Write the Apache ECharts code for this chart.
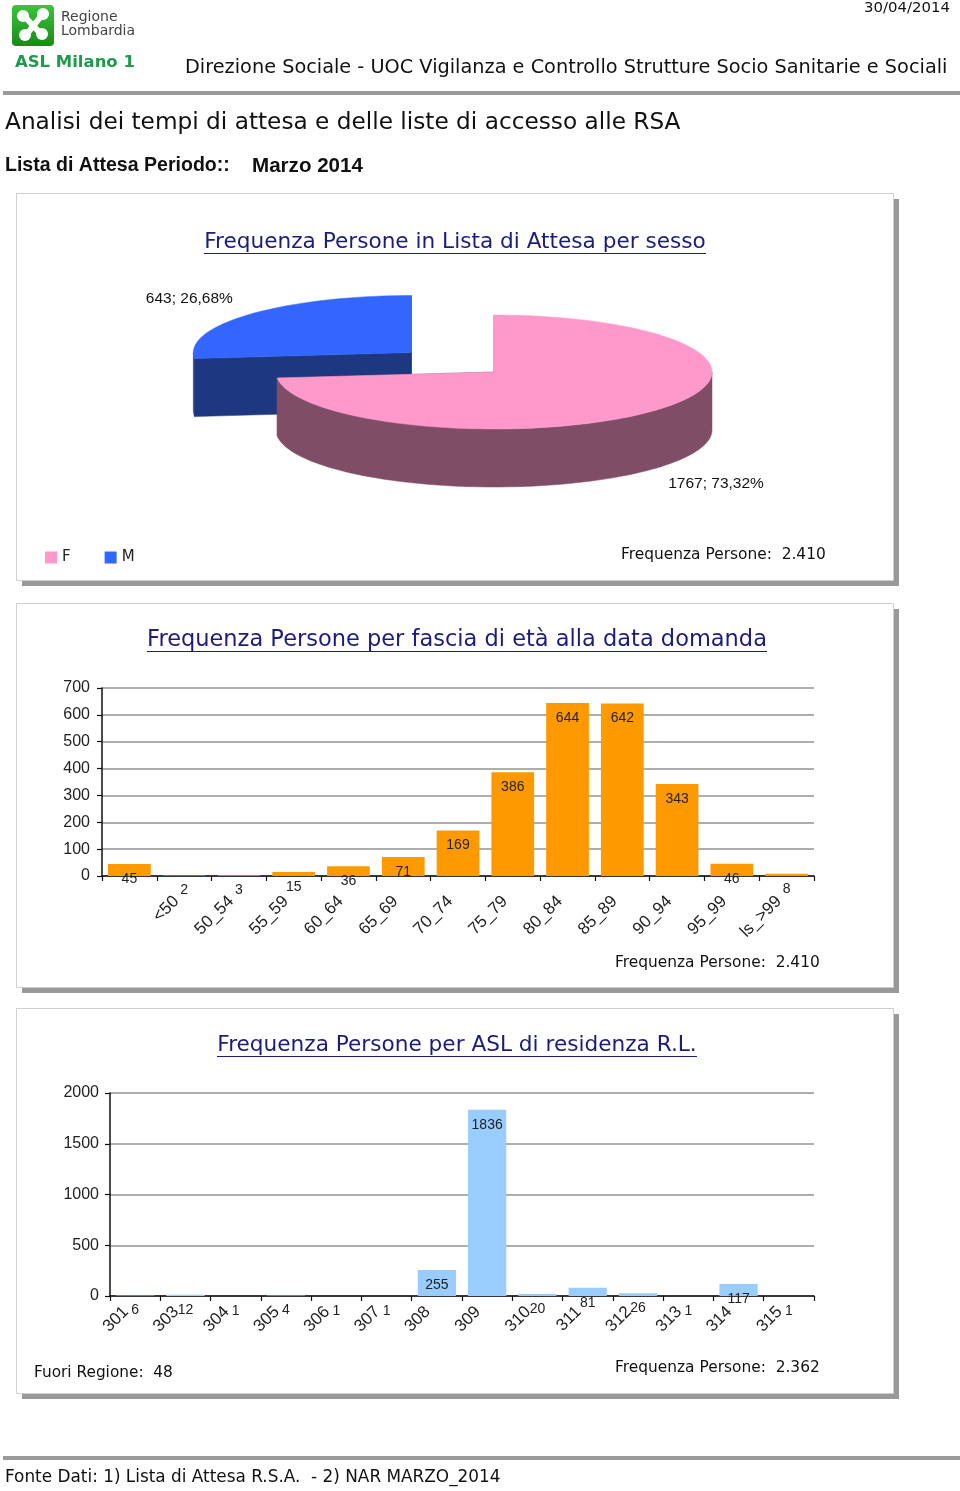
<!DOCTYPE html>
<html>
<head>
<meta charset="utf-8">
<title>Analisi dei tempi di attesa RSA - Marzo 2014</title>
<script src="https://cdn.jsdelivr.net/npm/echarts@6.0.0/dist/echarts.min.js"></script>
<style>
  html, body { margin: 0; padding: 0; background: #fff; }
  #page { width: 960px; height: 1491px; }
</style>
</head>
<body>
<div id="page"></div>
<script>
// persone in lista per sesso
const sexNames = ['F', 'M'];
const sexValues = [1767, 643];

// fasce di eta alla data domanda
const ageLabels = ['', '<50', '50_54', '55_59', '60_64', '65_69', '70_74', '75_79', '80_84', '85_89', '90_94', '95_99', 'ls_>99'];
const ageValues = [45, 2, 3, 15, 36, 71, 169, 386, 644, 642, 343, 46, 8];

// ASL di residenza
const aslLabels = ['301', '303', '304', '305', '306', '307', '308', '309', '310', '311', '312', '313', '314', '315'];
const aslValues = [6, 12, 1, 4, 1, 1, 255, 1836, 20, 81, 26, 1, 117, 1];

const GOTHIC = 'DejaVu Sans';
const ARIAL = 'Liberation Sans';
const NAVY = '#1c1c7c';

const sum = arr => arr.reduce((a, b) => a + b, 0);
const migliaia = n => String(n).replace(/\B(?=(\d{3})+(?!\d))/g, '.');

// dimensione del font per avere la larghezza voluta
const ctx = document.createElement('canvas').getContext('2d');
function fit(text, width, family, weight) {
    ctx.font = (weight || 'normal') + ' 100px "' + family + '"';
    return 100 * width / ctx.measureText(text).width;
}

function testo(str, x, y, width, o) {
    o = o || {};
    const family = o.family || GOTHIC;
    return {
        type: 'text', x: x, y: y, z: 10,
        style: {
            text: str,
            fontFamily: family,
            fontWeight: o.weight || 'normal',
            fontSize: o.size || fit(str, width, family, o.weight),
            fill: o.color || '#111',
            align: o.align || 'left',
            verticalAlign: 'middle'
        }
    };
}

function titolo(str, cx, y, width) {
    return [
        testo(str, cx, y, width, {align: 'center', color: NAVY}),
        {type: 'line', z: 10, shape: {x1: cx - width / 2, y1: y + 11.5, x2: cx + width / 2, y2: y + 11.5},
            style: {stroke: NAVY, lineWidth: 1.2}}
    ];
}

function pannello(x, y, w, h) {
    return [
        {type: 'rect', shape: {x: x + 6, y: y + 6, width: w, height: h}, style: {fill: '#999'}},
        {type: 'rect', shape: {x: x + 0.5, y: y + 0.5, width: w, height: h}, style: {fill: '#fff', stroke: '#cfcfcf', lineWidth: 1}}
    ];
}

// torta 3D (schiacciata) disegnata con serie custom
const PIE = {cx: 494, cy: 372, rx: 218, ry: 57, depth: 58, explode: 0.51, pulled: 'M'};
const sexTop = ['#FF99CC', '#3366FF'];
const sexSide = ['#7F4D66', '#1D3780'];
const rad = d => d * Math.PI / 180;

function fetta(i) {
    return function (params, api) {
        const total = sum(sexValues);
        const before = sum(sexValues.slice(0, i));
        const a0 = 90 - 360 * before / total;
        const a1 = 90 - 360 * (before + sexValues[i]) / total;
        const mid = (a0 + a1) / 2;
        const D = PIE.depth;
        let cx = PIE.cx, cy = PIE.cy;
        if (sexNames[i] === PIE.pulled) {
            cx += PIE.rx * PIE.explode * Math.cos(rad(mid));
            cy -= PIE.ry * PIE.explode * Math.sin(rad(mid));
        }
        const pt = (deg, dy) => [cx + PIE.rx * Math.cos(rad(deg)), cy - PIE.ry * Math.sin(rad(deg)) + (dy || 0)];
        const arco = (from, to, dy) => {
            const pts = [];
            const n = Math.max(2, Math.ceil(Math.abs(from - to) / 2));
            for (let s = 0; s <= n; s++) pts.push(pt(from + (to - from) * s / n, dy));
            return pts;
        };
        const side = sexSide[i];
        const children = [];
        [a0, a1].forEach(a => {
            const e = pt(a);
            children.push({type: 'polygon', shape: {points: [[cx, cy], e, [e[0], e[1] + D], [cx, cy + D]]},
                style: {fill: side, stroke: side, lineWidth: 0.5}});
        });
        // parete esterna visibile (meta inferiore)
        const lo = Math.max(a1, -180), hi = Math.min(a0, 0);
        if (hi > lo) {
            children.push({type: 'polygon', shape: {points: arco(hi, lo).concat(arco(lo, hi, D))},
                style: {fill: side, stroke: side, lineWidth: 0.5}});
        }
        children.push({type: 'polygon', shape: {points: [[cx, cy]].concat(arco(a0, a1))},
            style: {fill: sexTop[i], stroke: sexTop[i], lineWidth: 0.5}});
        // etichetta valore; percentuale
        const s = Math.sin(rad(mid));
        const pct = (sexValues[i] / total * 100).toFixed(2).replace('.', ',');
        children.push({
            type: 'text',
            x: cx + PIE.rx * 1.37 * Math.cos(rad(mid)),
            y: cy - PIE.ry * 1.42 * s + (s < 0 ? D : 0),
            style: {text: sexValues[i] + '; ' + pct + '%', fontFamily: ARIAL, fontSize: 15.5, fill: '#111',
                align: 'center', verticalAlign: 'middle'}
        });
        return {type: 'group', children: children};
    };
}

const pieSeries = sexNames.map((name, i) => ({
    type: 'custom',
    name: name,
    coordinateSystem: 'none',
    z: i === 1 ? 2 : 3,
    itemStyle: {color: sexTop[i]},
    data: [sexValues[i]],
    renderItem: fetta(i)
})).reverse();

const totSesso = sum(sexValues);
const totEta = sum(ageValues);
const totAsl = sum(aslValues);

const valueLabel = {
    show: true, position: 'insideTop', distance: 8,
    fontFamily: ARIAL, fontSize: 14, color: '#222', textBorderWidth: 0
};
const yLabel = {fontFamily: ARIAL, fontSize: 16, color: '#222', formatter: v => String(v)};
const xLabel = {rotate: 45, interval: 0, hideOverlap: false, fontFamily: ARIAL, fontSize: 17, color: '#222'};
const black = {show: true, lineStyle: {color: '#111', width: 1.5}};
const tick = {show: true, length: 5, lineStyle: {color: '#111', width: 1.2}};
const grigio = {show: true, lineStyle: {color: '#939393', width: 1.6}};

const elementi = [].concat(
    // intestazione
    [
        {type: 'rect', z: 10, shape: {x: 12, y: 5, width: 42, height: 41, r: 4},
            style: {fill: new echarts.graphic.LinearGradient(0, 0, 0, 1, [
                {offset: 0, color: '#3cc43c'}, {offset: 1, color: '#168c16'}])}},
        {type: 'line', z: 11, shape: {x1: 24, y1: 16, x2: 41, y2: 34}, style: {stroke: '#fff', lineWidth: 6}},
        {type: 'line', z: 11, shape: {x1: 42, y1: 15, x2: 26, y2: 35}, style: {stroke: '#fff', lineWidth: 6}},
        {type: 'circle', z: 11, shape: {cx: 23, cy: 16, r: 6}, style: {fill: '#fff'}},
        {type: 'circle', z: 11, shape: {cx: 43, cy: 14, r: 6}, style: {fill: '#fff'}},
        {type: 'circle', z: 11, shape: {cx: 25, cy: 35, r: 6}, style: {fill: '#fff'}},
        {type: 'circle', z: 11, shape: {cx: 42, cy: 34, r: 6}, style: {fill: '#fff'}},
        testo('Regione', 61, 17, 69, {color: '#444', size: 14}),
        testo('Lombardia', 61, 31, 89, {color: '#444', size: 14}),
        testo('ASL Milano 1', 15, 63, 120, {color: '#1f9a4c', weight: 'bold'}),
        testo('30/04/2014', 950, 8, 86, {align: 'right'}),
        testo('Direzione Sociale - UOC Vigilanza e Controllo Strutture Socio Sanitarie e Sociali', 185, 68, 763),
        {type: 'rect', z: 10, shape: {x: 3, y: 91, width: 957, height: 4}, style: {fill: '#999'}},
        testo('Analisi dei tempi di attesa e delle liste di accesso alle RSA', 5, 123, 676),
        testo('Lista di Attesa Periodo::', 5, 166, 225, {weight: 'bold', family: ARIAL}),
        testo('Marzo 2014', 252, 166, 111, {weight: 'bold', family: ARIAL}),
        {type: 'rect', z: 10, shape: {x: 3, y: 1456, width: 957, height: 4}, style: {fill: '#999'}},
        testo('Fonte Dati: 1) Lista di Attesa R.S.A.  - 2) NAR MARZO_2014', 5, 1478, 496)
    ],
    pannello(16, 193, 877, 387),
    pannello(16, 603, 877, 384),
    pannello(16, 1008, 877, 385),
    titolo('Frequenza Persone in Lista di Attesa per sesso', 455, 242, 502),
    titolo('Frequenza Persone per fascia di età alla data domanda', 457, 640, 620),
    titolo('Frequenza Persone per ASL di residenza R.L.', 457, 1045, 480),
    [
        testo('Frequenza Persone:  ' + migliaia(totSesso), 621, 555, 205),
        testo('Frequenza Persone:  ' + migliaia(totEta), 615, 963, 205),
        testo('Fuori Regione:  ' + migliaia(totSesso - totAsl), 34, 1373, 139),
        testo('Frequenza Persone:  ' + migliaia(totAsl), 615, 1368, 205)
    ]
);

const chart = echarts.init(document.getElementById('page'), null, {renderer: 'canvas'});
chart.setOption({
    animation: false,
    backgroundColor: '#fff',
    legend: {
        data: sexNames, left: 40, top: 545, icon: 'rect', itemWidth: 12, itemHeight: 12, itemGap: 34,
        selectedMode: false, textStyle: {fontFamily: GOTHIC, fontSize: 15, color: '#222'}
    },
    grid: [
        {left: 102, top: 688, width: 712, height: 188},
        {left: 110, top: 1093, width: 704, height: 203}
    ],
    xAxis: [
        {gridIndex: 0, type: 'category', data: ageLabels, axisLine: black, axisTick: tick,
            axisLabel: Object.assign({margin: 15, padding: [0, 11, 0, 0]}, xLabel)},
        {gridIndex: 1, type: 'category', data: aslLabels, axisLine: black, axisTick: tick,
            axisLabel: Object.assign({margin: 4, padding: [0, 13, 0, 0]}, xLabel)}
    ],
    yAxis: [
        {gridIndex: 0, type: 'value', min: 0, max: 700, interval: 100, axisLine: black, axisTick: tick,
            splitLine: grigio, axisLabel: Object.assign({margin: 12}, yLabel)},
        {gridIndex: 1, type: 'value', min: 0, max: 2000, interval: 500, axisLine: black, axisTick: tick,
            splitLine: grigio, axisLabel: Object.assign({margin: 11}, yLabel)}
    ],
    series: pieSeries.concat([
        {type: 'bar', name: 'Fascia età', xAxisIndex: 0, yAxisIndex: 0, data: ageValues,
            barCategoryGap: '22%', itemStyle: {color: '#FF9900'}, label: valueLabel},
        {type: 'bar', name: 'ASL', xAxisIndex: 1, yAxisIndex: 1, data: aslValues,
            barCategoryGap: '24%', itemStyle: {color: '#99CCFF'}, label: valueLabel}
    ]),
    graphic: {elements: elementi}
});
</script>
</body>
</html>
